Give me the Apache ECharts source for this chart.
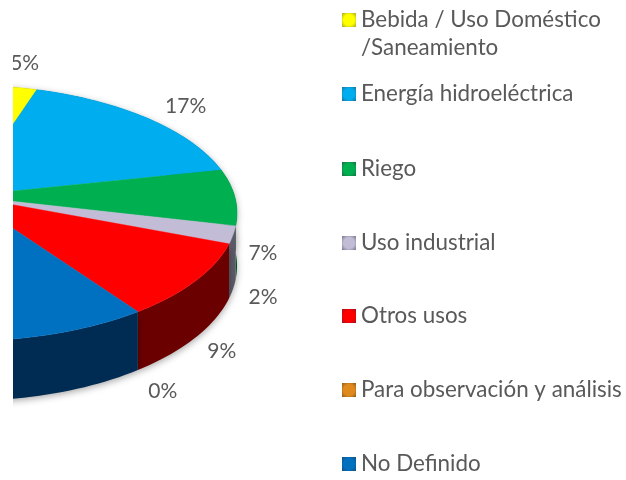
<!DOCTYPE html>
<html>
<head>
<meta charset="utf-8">
<script src="https://cdn.jsdelivr.net/npm/echarts@6/dist/echarts.min.js"></script>
<style>
html,body{margin:0;padding:0;background:#fff;overflow:hidden}
#chart{position:absolute;left:13px;top:0;width:613px;height:480px}
</style>
</head>
<body>
<div id="chart"></div>
<script>
const categories = ['Bebida / Uso Doméstico\n/Saneamiento','Energía hidroeléctrica','Riego','Uso industrial','Otros usos','Para observación y análisis','No Definido'];
const values = [4.9, 16.7, 7.1, 2.2, 9.4, 0, 59.7];
const topColors = ['#ffff00','#00aeef','#00b050','#c2bcd6','#ff0000','#e08a1e','#0070c0'];
const sideColors = ['#7f7f00','#005a7c','#005c2a','#5c5a68','#6b0000','#733600','#002b52'];
const legendBorders = ['#a5a52a','#1f6f9a','#1d6b40','#77758a','#9a1520','#8f5a1c','#1a4f80'];
const legendTops = [-22, 82, 157, 231, 304, 378, 452];
const labelOffsets = [[24,-23],[38,-12],[28,56],[30,62],[26,71],[25,80],[0,0]];

const canvasLeft = 13;
const apexX = -36 - canvasLeft, apexY = 196;
const radiusX = 270.6, radiusY = 125.7, persp = 0.133, wall = 52;
const total = values.reduce((a,b)=>a+b,0);
const textColor = '#595959';
const labelFont = '21px Lato';

function rim(deg){
  const t = deg*Math.PI/180, u = Math.cos(t), v = Math.sin(t), w = 1 - persp*v;
  return {x: apexX + radiusX*u/w, y: apexY + radiusY*v/w, drop: wall/w};
}
function sliceAngles(i){
  let s = 0;
  for(let k=0;k<i;k++) s += values[k];
  const a0 = -90 + 360*s/total;
  return [a0, a0 + 360*values[i]/total];
}
function arc(a0,a1){
  const n = Math.max(2, Math.ceil((a1-a0)/1.5)), pts=[];
  for(let j=0;j<=n;j++) pts.push(rim(a0+(a1-a0)*j/n));
  return pts;
}
function renderSlice(i){
  return function(){
    const [a0,a1] = sliceAngles(i), children = [];
    if(values[i] > 0){
      const pts = arc(a0,a1);
      const side = pts.map(p=>[p.x,p.y]).concat(pts.slice().reverse().map(p=>[p.x,p.y+p.drop]));
      children.push({type:'polygon',z2:1,shape:{points:side},
        style:{fill:sideColors[i],shadowBlur:7,shadowColor:'rgba(0,0,0,0.35)',shadowOffsetY:2}});
      children.push({type:'polygon',z2:5,shape:{points:[[apexX,apexY]].concat(pts.map(p=>[p.x,p.y]))},
        style:{fill:topColors[i],stroke:topColors[i],lineWidth:0.5}});
    }
    if(i < values.length-1){
      const m = rim((a0+a1)/2);
      children.push({type:'text',z2:10,style:{text:Math.round(values[i])+'%',x:m.x+labelOffsets[i][0],y:m.y+labelOffsets[i][1],
        fill:textColor,font:labelFont,align:'center',verticalAlign:'middle'}});
    }
    return {type:'group',children:children};
  };
}

const chart = echarts.init(document.getElementById('chart'),null,{renderer:'canvas'});
chart.setOption({
  animation:false,
  backgroundColor:'#fff',
  legend: categories.map((name,i)=>({
    data:[{name:name,icon:'rect',itemStyle:{
      color:new echarts.graphic.RadialGradient(0.5,0.5,0.7,[{offset:0,color:topColors[i]},{offset:0.55,color:topColors[i]},{offset:1,color:legendBorders[i]}]),
      borderWidth:0}}],
    left:329, top:legendTops[i], padding:0, itemWidth:14, itemHeight:14, itemGap:0,
    selectedMode:false, orient:'vertical',
    formatter: n => n.indexOf('\n')>=0 ? ' \n'+n : n,
    textStyle:{color:textColor,fontFamily:'Lato',fontSize:22.4,lineHeight:i===0?28:24,padding:[0,0,0,0]}
  })),
  series: categories.map((name,i)=>({
    type:'custom',name:name,coordinateSystem:'none',silent:true,
    itemStyle:{color:topColors[i]},
    data:[values[i]],
    renderItem:renderSlice(i)
  }))
});
</script>
</body>
</html>
